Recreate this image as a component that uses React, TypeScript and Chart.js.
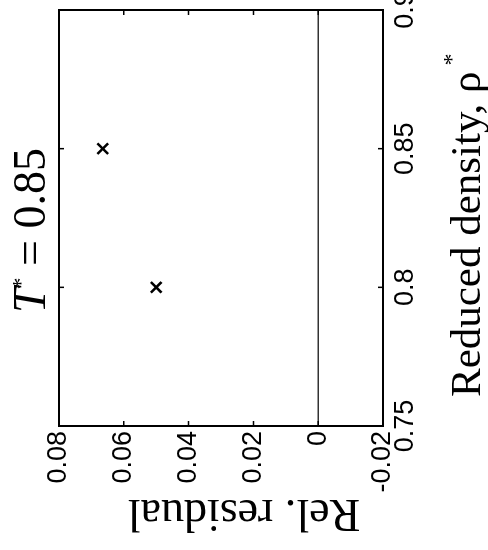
import React, { useEffect, useRef } from "react";
import { Chart, registerables } from "chart.js";

Chart.register(...registerables);

// ---- data ----
const densities = [0.8, 0.85];
const residuals = [0.05, 0.0665];
const zeroLineX = [0.75, 0.9];
const zeroLineY = [0, 0];
const xTickValues = [0.75, 0.8, 0.85, 0.9];
const xTickLabels = ["0.75", "0.8", "0.85", "0.9"];
const yTickValues = [-0.02, 0, 0.02, 0.04, 0.06, 0.08];
const yTickLabels = ["-0.02", "0", "0.02", "0.04", "0.06", "0.08"];
const titleMain = "T";
const titleSup = "*";
const titleRest = " = 0.85";
const xLabelMain = "Reduced density, \u03c1";
const xLabelSup = "*";
const yLabel = "Rel. residual";

const SANS = "'Liberation Sans', Arial, Helvetica, sans-serif";
const SERIF = "'Liberation Serif', 'Times New Roman', Times, serif";

const decor = {
  id: "decor",
  afterDraw(chart: any) {
    const { ctx, chartArea: a, scales } = chart;
    const xs = scales.x;
    const ys = scales.y;
    ctx.save();
    // box
    ctx.strokeStyle = "#000";
    ctx.lineWidth = 2;
    ctx.strokeRect(a.left, a.top, a.right - a.left, a.bottom - a.top);
    // inward ticks
    const tl = 5;
    ctx.lineWidth = 1.5;
    ctx.beginPath();
    xTickValues.forEach((v) => {
      const p = xs.getPixelForValue(v);
      ctx.moveTo(p, a.bottom);
      ctx.lineTo(p, a.bottom - tl);
      ctx.moveTo(p, a.top);
      ctx.lineTo(p, a.top + tl);
    });
    yTickValues.forEach((v) => {
      const p = ys.getPixelForValue(v);
      ctx.moveTo(a.left, p);
      ctx.lineTo(a.left + tl, p);
      ctx.moveTo(a.right, p);
      ctx.lineTo(a.right - tl, p);
    });
    ctx.stroke();

    ctx.fillStyle = "#000";
    ctx.textBaseline = "alphabetic";
    ctx.textAlign = "left";

    // title
    let u = a.left + 113;
    const tBase = a.top - 14;
    ctx.font = `italic 46px ${SERIF}`;
    ctx.fillText(titleMain, u, tBase);
    u += ctx.measureText(titleMain).width;
    ctx.font = `24px ${SERIF}`;
    ctx.fillText(titleSup, u - 2, tBase - 17);
    u += ctx.measureText(titleSup).width - 2;
    ctx.font = `46px ${SERIF}`;
    ctx.fillText(titleRest, u, tBase);

    // x label
    const xBase = a.bottom + 97;
    let ux = a.left + 29;
    ctx.font = `43px ${SERIF}`;
    ctx.fillText(xLabelMain, ux, xBase);
    ux += ctx.measureText(xLabelMain).width;
    ctx.font = `24px ${SERIF}`;
    ctx.fillText(xLabelSup, ux + 6, xBase - 21);

    // y label
    ctx.save();
    ctx.translate(50, (a.top + a.bottom) / 2 + 23);
    ctx.rotate(-Math.PI / 2);
    ctx.textAlign = "center";
    ctx.font = `46px ${SERIF}`;
    ctx.fillText(yLabel, 0, 0);
    ctx.restore();

    ctx.restore();
  },
};

export default function App() {
  const ref = useRef<HTMLCanvasElement | null>(null);

  useEffect(() => {
    const canvas = ref.current;
    if (!canvas) return;
    const chart = new Chart(canvas, {
      type: "scatter",
      data: {
        datasets: [
          {
            data: zeroLineX.map((x, i) => ({ x, y: zeroLineY[i] })),
            showLine: true,
            borderColor: "#333333",
            borderWidth: 1.5,
            pointRadius: 0,
            order: 2,
          },
          {
            data: densities.map((x, i) => ({ x, y: residuals[i] })),
            pointStyle: "crossRot",
            pointRadius: 7.5,
            borderColor: "#000",
            backgroundColor: "#000",
            borderWidth: 2.5,
            pointBorderWidth: 2.5,
            order: 1,
          },
        ],
      },
      options: {
        animation: false,
        responsive: false,
        devicePixelRatio: 1,
        events: [],
        layout: { padding: { top: 59, left: 0, right: 60, bottom: 0 } },
        plugins: {
          legend: { display: false },
          tooltip: { enabled: false },
          title: { display: false },
        },
        scales: {
          x: {
            type: "linear",
            position: "bottom",
            min: 0.75,
            max: 0.9,
            grid: { display: false, drawTicks: false },
            border: { display: false },
            afterBuildTicks: (s: any) => {
              s.ticks = xTickValues.map((v) => ({ value: v }));
            },
            afterFit: (s: any) => {
              s.height = 105;
            },
            ticks: {
              padding: 6,
              color: "#000",
              maxRotation: 0,
              autoSkip: false,
              font: { family: SANS, size: 27 },
              callback: (_v: any, i: number) => xTickLabels[i],
            },
          },
          y: {
            type: "linear",
            position: "left",
            min: -0.02,
            max: 0.08,
            grid: { display: false, drawTicks: false },
            border: { display: false },
            afterBuildTicks: (s: any) => {
              s.ticks = yTickValues.map((v) => ({ value: v }));
            },
            afterFit: (s: any) => {
              s.width = 124;
            },
            ticks: {
              padding: 5,
              color: "#000",
              autoSkip: false,
              font: { family: SANS, size: 27 },
              callback: (_v: any, i: number) => yTickLabels[i],
            },
          },
        },
      } as any,
      plugins: [decor],
    });
    return () => chart.destroy();
  }, []);

  return (
    <div
      style={{
        position: "fixed",
        left: 0,
        top: 0,
        width: 488,
        height: 550,
        overflow: "hidden",
        background: "#fff",
      }}
    >
      <div
        style={{
          position: "absolute",
          left: 0,
          top: 0,
          width: 600,
          height: 488,
          transformOrigin: "0 0",
          transform: "translate(0px, 550px) rotate(-90deg)",
        }}
      >
        <canvas
          ref={ref}
          width={600}
          height={488}
          style={{ display: "block", width: 600, height: 488 }}
        />
      </div>
    </div>
  );
}
